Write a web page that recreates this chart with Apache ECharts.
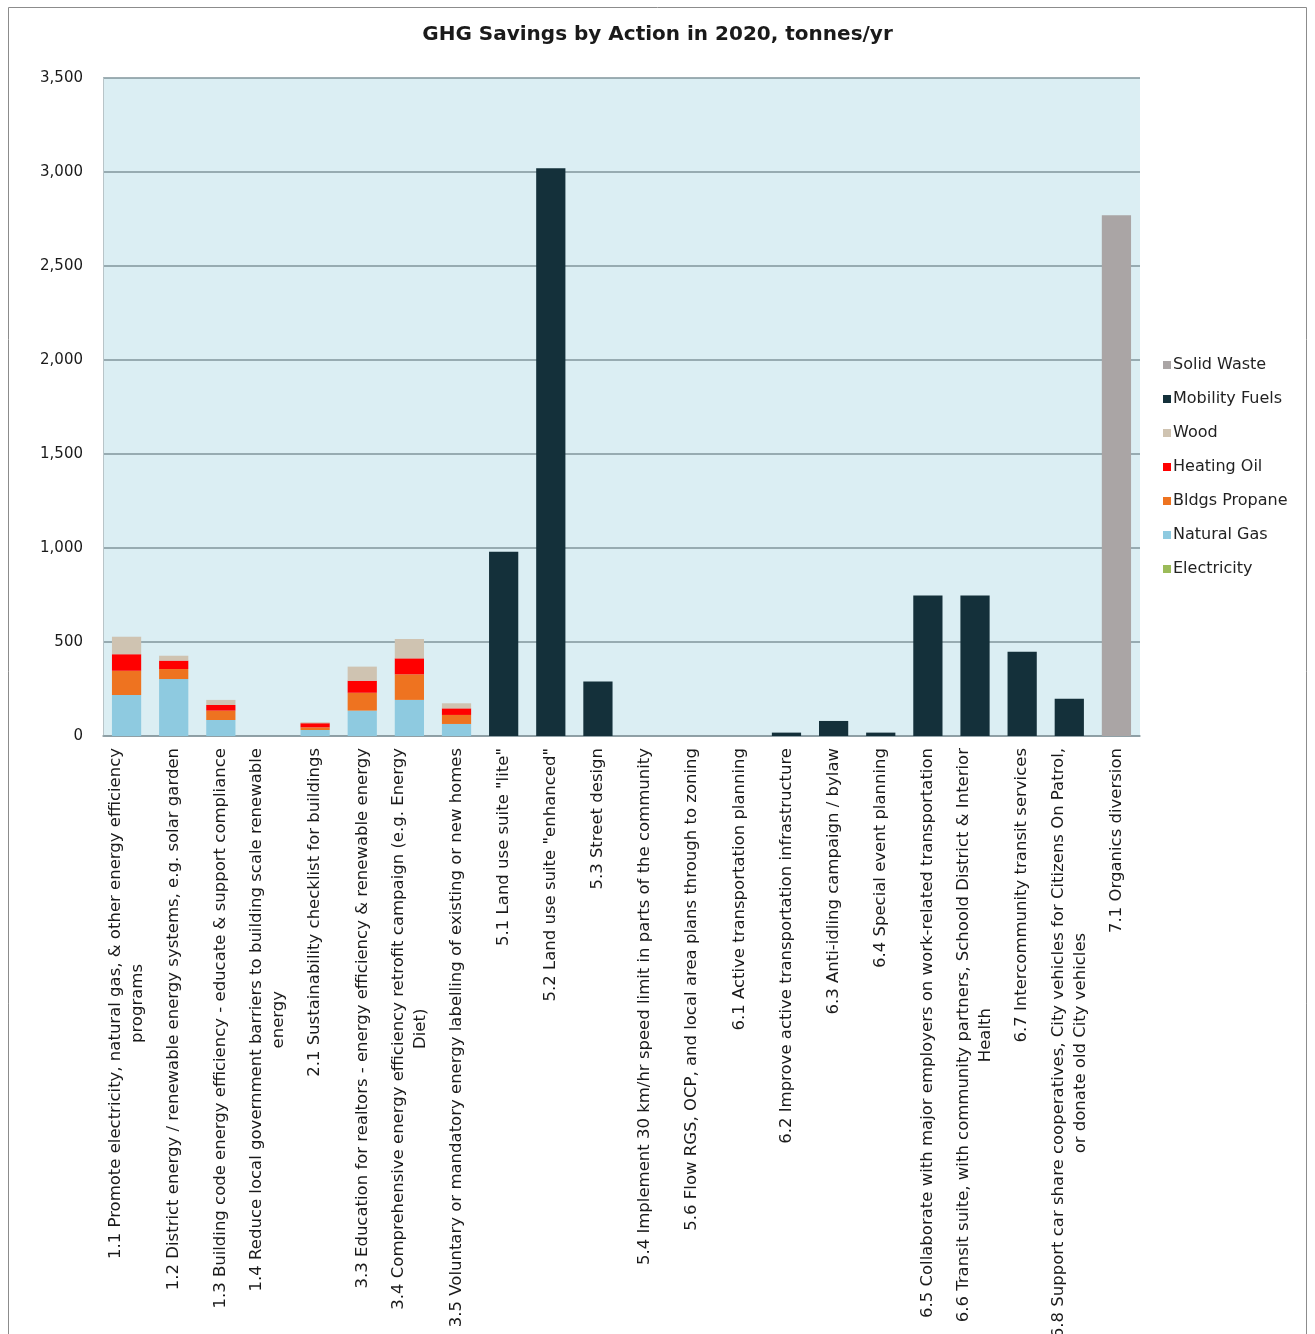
<!DOCTYPE html>
<html>
<head>
<meta charset="utf-8">
<script src="https://cdn.jsdelivr.net/npm/echarts@6/dist/echarts.min.js"></script>
<style>
html,body{margin:0;padding:0;background:#fff;}
#chart{width:1315px;height:1334px;}
</style>
</head>
<body>
<div id="chart"></div>
<script>
const categories = [
  ["1.1 Promote electricity, natural gas, & other energy efficiency", "programs"],
  ["1.2 District energy / renewable energy systems, e.g. solar garden"],
  ["1.3 Building code energy efficiency - educate & support compliance"],
  ["1.4 Reduce local government barriers to building scale renewable", "energy"],
  ["2.1 Sustainability checklist for buildings"],
  ["3.3 Education for realtors - energy efficiency & renewable energy"],
  ["3.4 Comprehensive energy efficiency retrofit campaign (e.g. Energy", "Diet)"],
  ["3.5 Voluntary or mandatory energy labelling of existing or new homes"],
  ["5.1 Land use suite \"lite\""],
  ["5.2 Land use suite \"enhanced\""],
  ["5.3 Street design"],
  ["5.4 Implement 30 km/hr speed limit in parts of the community"],
  ["5.6 Flow RGS, OCP, and local area plans through to zoning"],
  ["6.1 Active transportation planning"],
  ["6.2 Improve active transportation infrastructure"],
  ["6.3 Anti-idling campaign / bylaw"],
  ["6.4 Special event planning"],
  ["6.5 Collaborate with major employers on work-related transportation"],
  ["6.6 Transit suite, with community partners, Schoold District & Interior", "Health"],
  ["6.7 Intercommunity transit services"],
  ["6.8 Support car share cooperatives, City vehicles for Citizens On Patrol,", "or donate old City vehicles"],
  ["7.1 Organics diversion"]
];

const electricity   = [0, 0, 0, 0, 0, 0, 0, 0, 0, 0, 0, 0, 0, 0, 0, 0, 0, 0, 0, 0, 0, 0];
const naturalGas    = [218, 303, 85, 0, 32, 135, 192, 64, 0, 0, 0, 0, 0, 0, 0, 0, 0, 0, 0, 0, 0, 0];
const bldgsPropane  = [129, 53, 50, 0, 14, 95, 136, 48, 0, 0, 0, 0, 0, 0, 0, 0, 0, 0, 0, 0, 0, 0];
const heatingOil    = [88, 45, 30, 0, 22, 64, 85, 35, 0, 0, 0, 0, 0, 0, 0, 0, 0, 0, 0, 0, 0, 0];
const wood          = [93, 26, 27, 0, 5, 75, 103, 27, 0, 0, 0, 0, 0, 0, 0, 0, 0, 0, 0, 0, 0, 0];
const mobilityFuels = [0, 0, 0, 0, 0, 0, 0, 0, 980, 3020, 290, 0, 0, 0, 18, 80, 18, 748, 748, 448, 198, 0];
const solidWaste    = [0, 0, 0, 0, 0, 0, 0, 0, 0, 0, 0, 0, 0, 0, 0, 0, 0, 0, 0, 0, 0, 2770];

const yTicks = [0, 500, 1000, 1500, 2000, 2500, 3000, 3500];
const seriesNames = ["Electricity", "Natural Gas", "Bldgs Propane", "Heating Oil", "Wood", "Mobility Fuels", "Solid Waste"];
const seriesValues = [electricity, naturalGas, bldgsPropane, heatingOil, wood, mobilityFuels, solidWaste];
const seriesColors = ["#9bbb59", "#8ecae0", "#ee7320", "#ff0000", "#cfc3b1", "#14303a", "#aaa5a5"];

const FONT = "DejaVu Sans";
const chart = echarts.init(document.getElementById('chart'), null, {renderer: 'canvas'});

const option = {
  backgroundColor: '#ffffff',
  animation: false,
  textStyle: {fontFamily: FONT},
  title: {
    text: 'GHG Savings by Action in 2020, tonnes/yr',
    left: 'center', top: 20,
    textStyle: {fontFamily: FONT, fontWeight: 'bold', fontSize: 20, color: '#1a1a1a'}
  },
  graphic: [{
    type: 'rect', silent: true, z: -10,
    shape: {x: 8.5, y: 7.5, width: 1298, height: 1340},
    style: {fill: 'none', stroke: '#8c8c8c', lineWidth: 1}
  }],
  legend: {
    orient: 'vertical',
    left: 1158, top: 352,
    itemWidth: 8, itemHeight: 8, itemGap: 18,
    icon: 'rect',
    data: seriesNames.slice().reverse(),
    textStyle: {fontFamily: FONT, fontSize: 16, color: '#222', padding: [0, 0, 0, -3]}
  },
  grid: {left: 103, right: 175, top: 78, bottom: 598, containLabel: false,
         outerBoundsMode: 'none',
         show: true, backgroundColor: '#dbeef3', borderWidth: 0},
  xAxis: {
    type: 'category',
    data: categories.map(c => c.join('\n')),
    axisTick: {show: false},
    axisLine: {show: true, lineStyle: {color: '#8b9ca1', width: 1.5}},
    axisLabel: {
      interval: 0, rotate: 90, margin: 12,
      fontFamily: FONT, fontSize: 16.5, color: '#1a1a1a', lineHeight: 22,
      formatter: function (v) {
        return v.split('\n').map(s => '{c|' + s + '}').join('\n');
      },
      rich: {c: {align: 'center', fontFamily: FONT, fontSize: 16.5, lineHeight: 22, color: '#1a1a1a'}}
    }
  },
  yAxis: {
    type: 'value', min: 0, max: 3500, interval: 500,
    axisLine: {show: true, lineStyle: {color: '#b8c4c8'}},
    axisTick: {show: false},
    splitLine: {lineStyle: {color: '#80959b', width: 1.5}},
    axisLabel: {
      margin: 20, fontFamily: FONT, fontSize: 15, color: '#1a1a1a',
      formatter: function (v) { return yTicks.indexOf(v) >= 0 ? v.toLocaleString('en-US') : ''; }
    }
  },
  series: seriesNames.map((n, i) => ({
    name: n, type: 'bar', stack: 'total',
    barCategoryGap: '38%',
    itemStyle: {color: seriesColors[i]},
    data: seriesValues[i]
  }))
};
chart.setOption(option);
</script>
</body>
</html>
